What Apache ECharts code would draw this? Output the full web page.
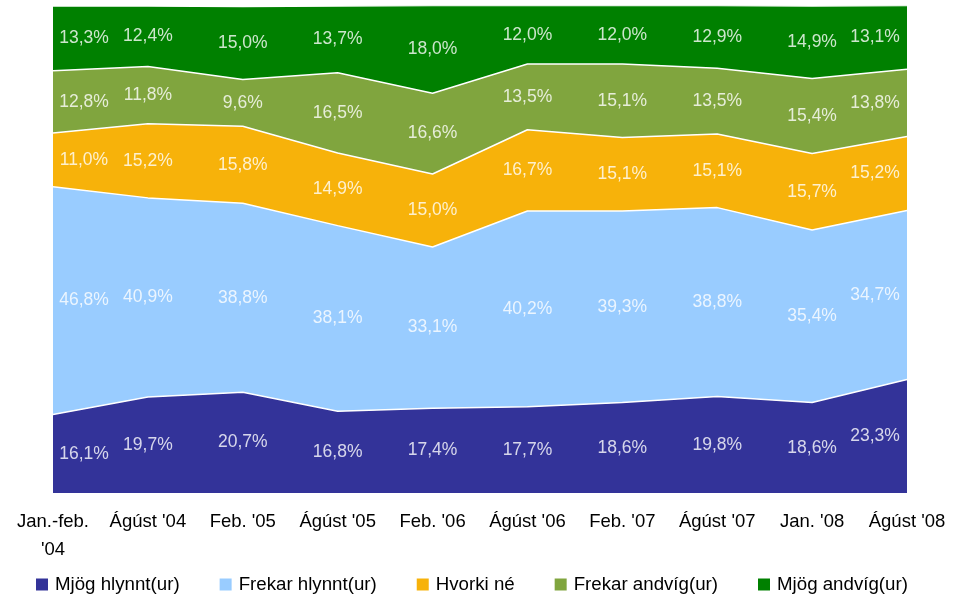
<!DOCTYPE html>
<html>
<head>
<meta charset="utf-8">
<script src="https://cdn.jsdelivr.net/npm/echarts@6/dist/echarts.min.js"></script>
<style>html,body{margin:0;padding:0;background:#fff}#c{width:966px;height:597px}</style>
</head>
<body>
<div id="c"></div>
<script>
const categories = ["Jan.-feb. '04", "Ágúst '04", "Feb. '05", "Ágúst '05", "Feb. '06", "Ágúst '06", "Feb. '07", "Ágúst '07", "Jan. '08", "Ágúst '08"];
const seriesNames = ["Mjög hlynnt(ur)", "Frekar hlynnt(ur)", "Hvorki né", "Frekar andvíg(ur)", "Mjög andvíg(ur)"];
const mjogHlynnt   = [16.1, 19.7, 20.7, 16.8, 17.4, 17.7, 18.6, 19.8, 18.6, 23.3];
const frekarHlynnt = [46.8, 40.9, 38.8, 38.1, 33.1, 40.2, 39.3, 38.8, 35.4, 34.7];
const hvorkiNe     = [11.0, 15.2, 15.8, 14.9, 15.0, 16.7, 15.1, 15.1, 15.7, 15.2];
const frekarAndvig = [12.8, 11.8, 9.6, 16.5, 16.6, 13.5, 15.1, 13.5, 15.4, 13.8];
const mjogAndvig   = [13.3, 12.4, 15.0, 13.7, 18.0, 12.0, 12.0, 12.9, 14.9, 13.1];

const values = [mjogHlynnt, frekarHlynnt, hvorkiNe, frekarAndvig, mjogAndvig];
const colors = ['#333399', '#99CCFF', '#F7B20A', '#80A53E', '#008000'];
const FONT = "'Liberation Sans', Arial, sans-serif";

const series = [];
values.forEach((vals, s) => {
  series.push({
    name: seriesNames[s], type: 'line', stack: 'all', symbol: 'none',
    data: vals, color: colors[s],
    lineStyle: { color: '#ffffff', width: 1.5 },
    areaStyle: { color: colors[s], opacity: 1 },
    z: 2
  });
});
// label positions: middle of each band
values.forEach((vals, s) => {
  const pts = vals.map((v, i) => {
    let below = 0;
    for (let k = 0; k < s; k++) below += values[k][i];
    const n = vals.length;
    const dx = i === 0 ? 31 : (i === n - 1 ? -32 : 0);
    return { value: [i, below + v / 2], label: { offset: [dx, 0] } };
  });
  series.push({
    type: 'scatter', symbolSize: 0, data: pts, silent: true, z: 5,
    label: {
      show: true, position: 'inside', color: '#ffffff', fontFamily: FONT, fontSize: 17.5,
      formatter: p => values[s][p.dataIndex].toFixed(1).replace('.', ',') + '%'
    },
    tooltip: { show: false }
  });
});

const chart = echarts.init(document.getElementById('c'));
chart.setOption({
  animation: false,
  backgroundColor: '#ffffff',
  grid: { left: 53, right: 59, top: 6, bottom: 104 },
  xAxis: {
    type: 'category', data: categories, boundaryGap: false,
    axisLine: { show: false }, axisTick: { show: false }, splitLine: { show: false },
    axisLabel: {
      color: '#000', fontFamily: FONT, fontSize: 18.5, margin: 15, lineHeight: 28, interval: 0,
      formatter: v => v.replace("feb. ", "feb.\n")
    }
  },
  yAxis: { type: 'value', min: 0, max: 100, show: false, splitLine: { show: false } },
  legend: {
    data: seriesNames, bottom: -2, left: 31, icon: 'rect', itemWidth: 12, itemHeight: 12, itemGap: 40,
    textStyle: { color: '#000', fontFamily: FONT, fontSize: 18.7, padding: [0, 0, 0, 2] }
  },
  series: series
});
</script>
</body>
</html>
